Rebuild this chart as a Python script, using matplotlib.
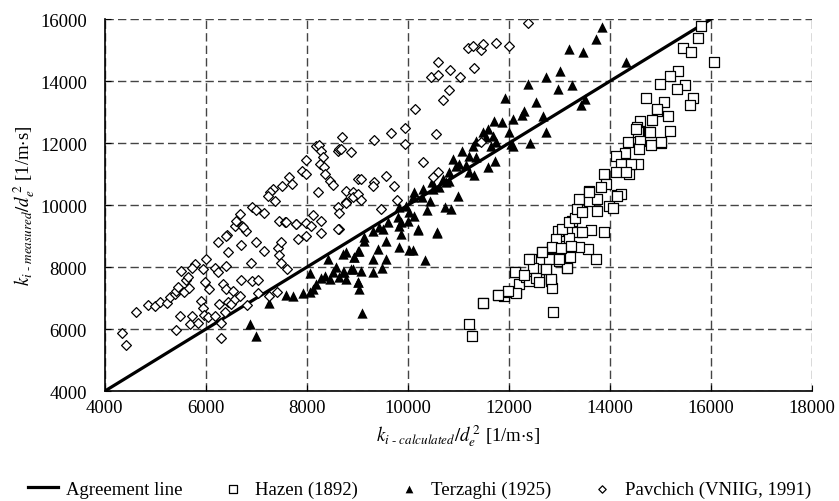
import numpy as np
import matplotlib
matplotlib.use("Agg")
import matplotlib.pyplot as plt

# Values (k/de^2 in 1/m·s)
hazen_x = [11200, 11259, 11490, 11773, 11905, 11990, 12136, 12123, 12202, 12334, 12399, 12432, 12530, 12597,
           12650, 12728, 12826, 12846, 12879, 12794, 12860, 12992, 13024, 13156, 13190, 13222, 13255, 12960,
           13091, 13353, 13881, 13729, 13571, 13387, 13621, 13439, 13190, 13057, 12939, 12846, 12650, 13190,
           13308, 13353, 13452, 13387, 13585, 13749, 13749, 13980, 14059, 14145, 13585, 13210, 13156, 12992,
           12826, 12478, 12399, 12123, 12136, 11971, 11773, 11476, 12530, 12300, 12597, 12741, 13024, 13222,
           15792, 15739, 15443, 15593, 16055, 15350, 15178, 14981, 15475, 15330, 14710, 15633, 15573, 15067,
           14935, 15152, 14822, 14586, 15187, 14538, 14770, 14560, 15007, 14803, 14586, 14360, 14573, 14296,
           14560, 14375, 14211, 14937, 14520, 14790, 15000, 14111, 14211, 14408, 14111, 14310, 13881, 13913,
           13814, 14145, 13585]
hazen_y = [6161, 5764, 6839, 7097, 7054, 7204, 7204, 7828, 7452, 7666, 7559, 8258, 7936, 7613,
           8473, 7936, 7559, 7312, 6538, 8258, 8602, 8205, 8903, 7957, 8419, 9172, 9494, 9172,
           8688, 9118, 9118, 8258, 8581, 8634, 9204, 9118, 8925, 9226, 8903, 8634, 8495, 9441,
           9570, 9871, 9763, 10194, 10140, 10194, 9817, 9979, 9893, 10323, 10462, 8312, 7957, 8258,
           7613, 7957, 8258, 7828, 7161, 7236, 7097, 6839, 7634, 7742, 7505, 7936, 8602, 8667,
           15763, 15376, 15054, 14946, 14624, 14333, 14151, 13903, 13871, 13742, 13441, 13441, 13226, 13312,
           13043, 12882, 12752, 12720, 12398, 12505, 12344, 12344, 12000, 11935, 12075, 12022, 11806, 11677,
           11323, 11000, 10355, 13097, 12452, 12344, 12022, 11591, 11323, 11323, 11054, 11054, 11000, 10677,
           10570, 10301, 10409]

terzaghi_x = [6880, 6984, 7247, 7590, 7721, 7919, 8051, 8051, 8117, 8182, 8281, 8348, 8412, 8447, 8513,
              8578, 8644, 8710, 8743, 8775, 8874, 8941, 9006, 9006, 9816, 9862, 10194, 10570, 10028,
              10094, 9830, 10344, 9567, 9567, 9487, 9303, 9303, 9138, 9040, 8941, 9006, 9040, 9091, 9073,
              8710, 8775, 8907, 9401, 9435, 9994, 13190, 13005, 12728, 12385, 13242, 12978, 12530, 11925,
              12300, 12254, 12676, 12728, 12411, 12083, 12070, 11870, 11707, 11575, 11476, 11542, 11673,
              11740, 11640, 11344, 11278, 11067, 11213, 11344, 11575, 11727, 12004, 12036, 10883, 10949,
              11016, 11147, 11312, 11200, 10804, 10818, 10686, 10474, 10620, 10752, 10996, 10488, 10290,
              10277, 10126, 10107, 10435, 10369, 10738, 10850, 9960, 9830, 10028, 10126, 9796, 9862, 9598,
              9500, 9303, 10194, 10570, 9138, 13834, 13715, 13472, 14310, 13511, 13432]
terzaghi_y = [6161, 5764, 6839, 7097, 7075, 7161, 7204, 7806, 7290, 7452, 7634, 7720, 8258, 7613, 7828,
              7989, 7666, 8419, 7828, 7613, 7936, 8312, 8527, 7505, 9312, 9065, 9204, 9097, 8559,
              8559, 8634, 8237, 8849, 8258, 7957, 8258, 7828, 8849, 8527, 8312, 7505, 7290, 6516, 7882,
              7828, 8473, 7936, 8581, 9280, 9494, 15032, 14333, 14140, 13903, 13871, 13742, 13312, 13441,
              13043, 12903, 12882, 12366, 12000, 12774, 11914, 12667, 12720, 12452, 12344, 12183, 12237,
              12022, 11914, 12075, 11914, 11752, 11591, 11538, 11215, 11430, 12344, 11968, 11484, 11269,
              11323, 11290, 10968, 11054, 11075, 10785, 10839, 10731, 10570, 10731, 10301, 10516, 10516,
              10247, 10409, 10247, 10118, 9828, 9925, 9871, 9979, 9925, 9763, 9656, 9602, 9441, 9441,
              9226, 9172, 9226, 9140, 8957, 15732, 15355, 14946, 14602, 13419, 13226]

pavchich_x = [4342, 4409, 4613, 4857, 4988, 5087, 5231, 5283, 5383, 5416, 5448, 5416, 5482, 5514, 5567,
              5600, 5646, 5660, 5693, 5733, 5779, 5733, 5844, 5910, 5943, 5957, 6010, 5943, 5990, 6055,
              6042, 6174, 6174, 6239, 6239, 6258, 6292, 6292, 6338, 6372, 6405, 6405, 6415, 6437, 6437,
              6504, 6536, 6570, 6583, 6601, 6668, 6700, 6700, 6719, 6798, 6812, 6897, 6918, 6984, 7030,
              7030, 7149, 7249, 7407, 7425, 7445, 7478, 7478, 7445, 7557, 7610, 7775, 7820, 7985, 7985,
              8083, 8281, 8281, 8630, 8697, 8170, 8235, 8281, 8314, 8262, 8334, 8348, 8447, 8513, 8215,
              8611, 8644, 8874, 7972, 7906, 7985, 7643, 7707, 7510, 7326, 7273, 7227, 7360, 6919, 6998,
              7142, 6668, 6733, 7590, 7787, 8117, 8611, 8631, 8763, 8907, 8775, 8907, 9006, 8611, 6405,
              8676, 9322, 9666, 9949, 9941, 10546, 10146, 10291, 9073, 9336, 9303, 9567, 9731, 8774,
              9006, 9073, 9467, 9777, 10601, 10500, 10587, 10455, 10587, 10830, 11028, 11312, 10692,
              10804, 11186, 11285, 11450, 11476, 11740, 12004, 12384, 11443]
pavchich_y = [5871, 5484, 6538, 6774, 6731, 6882, 6839, 7022, 7129, 7236, 7344, 5957, 6430, 7880, 7183,
              7590, 7666, 7311, 6161, 6430, 8097, 7957, 6194, 6913, 6667, 6452, 8258, 7936, 7505, 7290,
              6376, 7957, 6430, 8796, 7828, 6806, 6194, 5699, 7452, 6538, 8043, 7290, 9032, 8495, 6860,
              6806, 7236, 6968, 9312, 9494, 7075, 8710, 7581, 9333, 9172, 6774, 8129, 7559, 8796, 7581,
              7161, 8527, 7054, 7204, 8602, 8387, 8796, 8118, 9494, 9441, 7936, 9387, 8903, 9419, 8989,
              9312, 9097, 9494, 9226, 12183, 11892, 11935, 11752, 11537, 11323, 11215, 11000, 10784, 10645, 10409,
              11752, 11806, 11699, 11462, 11107, 11000, 10892, 10677, 10623, 10516, 10429, 10301, 10140, 9925, 9849,
              9742, 9710, 9280, 9441, 9387, 9677, 9925, 9742, 10462, 10409, 10086, 10247, 10839, 9226, 9011,
              11806, 12108, 12323, 12474, 11968, 12290, 13097, 11398, 10839, 10731, 10623, 10946, 10602, 10065,
              10355, 10172, 9871, 10172, 11054, 10892, 14602, 14118, 14183, 14355, 14140, 14409, 13387,
              13710, 15054, 15140, 15011, 15194, 15215, 15118, 15871, 12022]

agreement = [4000, 16000]

plt.rcParams['font.family'] = ['Liberation Serif', 'DejaVu Serif']
plt.rcParams['mathtext.fontset'] = 'stix'
plt.rcParams['font.size'] = 13.5

fig = plt.figure(figsize=(8.39, 5.02), dpi=100)
ax = fig.add_axes([0.125, 0.219, 0.843, 0.741])

ax.plot(agreement, agreement, color='black', lw=2.3, label='Agreement line', zorder=2)
ax.scatter(hazen_x, hazen_y, marker='s', s=55, facecolor='white', edgecolor='black', linewidth=0.9,
           label='Hazen (1892)', zorder=3)
ax.scatter(terzaghi_x, terzaghi_y, marker='^', s=55, color='black', linewidth=0,
           label='Terzaghi (1925)', zorder=3)
ax.scatter(pavchich_x, pavchich_y, marker='D', s=25, facecolor='white', edgecolor='black', linewidth=0.9,
           label='Pavchich (VNIIG, 1991)', zorder=3)

ax.set_xlim(4000, 18000)
ax.set_ylim(4000, 16000)
ax.set_xticks(range(4000, 18001, 2000))
ax.set_yticks(range(4000, 16001, 2000))
ax.grid(True, color='#444444', lw=1.0, linestyle=(0, (6, 3)))
ax.set_axisbelow(True)
for s in ['top', 'right']:
    ax.spines[s].set_visible(False)
ax.spines['left'].set_linewidth(1.2)
ax.spines['bottom'].set_linewidth(1.2)
ax.tick_params(direction='in', length=4, pad=6)
ax.tick_params(axis='y', pad=13)

ax.set_xlabel(r'$k_{i\ \text{-}\ calculated}/d_e^{\,2}$ [1/m$\cdot$s]', labelpad=4)
ax.set_ylabel(r'$k_{i\ \text{-}\ measured}/d_e^{\,2}$ [1/m$\cdot$s]', labelpad=2)

fig.legend(loc='lower center', bbox_to_anchor=(0.5, -0.027), ncol=4, frameon=False,
           handlelength=1.6, handletextpad=0.4, columnspacing=1.9, markerscale=0.75)

fig.savefig('out.png', dpi=100)
